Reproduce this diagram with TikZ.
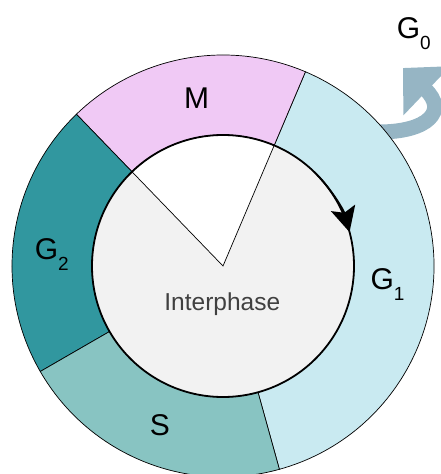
\documentclass[tikz,border=0pt]{standalone}
\usepackage{fontspec}
\setmainfont{Liberation Sans}
\usetikzlibrary{arrows.meta}
\definecolor{mcol}{RGB}{240,201,245}
\definecolor{gonecol}{RGB}{201,234,241}
\definecolor{gtwocol}{RGB}{49,151,159}
\definecolor{scol}{RGB}{136,196,194}
\definecolor{insidecol}{RGB}{242,242,242}
\definecolor{gzerocol}{RGB}{150,181,196}
\definecolor{intercol}{RGB}{64,64,64}
\tikzstyle{sector}=[draw=black,line width=0.7pt]
\tikzstyle{phase}=[inner sep=0pt,anchor=base,font=\fontsize{30}{36}\selectfont]
\newcommand{\phasesub}[1]{\raisebox{-11pt}{\fontsize{19}{22}\selectfont #1}}

\begin{document}
\begin{tikzpicture}[x=1pt,y=1pt]
\useasboundingbox (-223,-208) rectangle (217,266);
\coordinate (c) at (0,0);
\coordinate (exit) at (156,134);
\coordinate (gzerotip) at (180,198);
% G0 exit arrow, under the ring
\draw[gzerocol,line width=15pt,-{Triangle[length=33pt,width=66pt]}] (exit) .. controls (205,134) and (225,155) .. (gzerotip);
% the four phases
\path[sector,fill=gonecol] (-74.5:131pt) -- (-74.5:211pt) arc[start angle=-74.5,end angle=67,radius=211pt] -- (67:131pt) arc[start angle=67,end angle=-74.5,radius=131pt] -- cycle;
\path[sector,fill=mcol] (67:131pt) -- (67:211pt) arc[start angle=67,end angle=134,radius=211pt] -- (134:131pt) arc[start angle=134,end angle=67,radius=131pt] -- cycle;
\path[sector,fill=gtwocol] (134:131pt) -- (134:211pt) arc[start angle=134,end angle=210,radius=211pt] -- (210:131pt) arc[start angle=210,end angle=134,radius=131pt] -- cycle;
\path[sector,fill=scol] (210:131pt) -- (210:211pt) arc[start angle=210,end angle=285.5,radius=211pt] -- (285.5:131pt) arc[start angle=285.5,end angle=210,radius=131pt] -- cycle;
% interphase disc
\fill[insidecol] (c) circle[radius=131pt];
\draw[sector,fill=white] (c) -- (67:131pt) arc[start angle=67,end angle=134,radius=131pt] -- cycle;
\draw[line width=1.8pt] (c) circle[radius=131pt];
\draw[line width=1.8pt,-{Stealth[length=25pt,width=25pt,inset=5pt]}] (44:131pt) arc[start angle=44,end angle=15,radius=131pt];
% labels
\node[phase] (m) at (-26.3,157.7) {M};
\node[phase,anchor=base west] (gtwo) at (-188.4,7) {G\phasesub{2}};
\node[phase,anchor=base west] (gone) at (147.3,-23) {G\phasesub{1}};
\node[phase] (s) at (-63,-169) {S};
\node[phase,anchor=base west] (gzero) at (173.6,227.7) {G\phasesub{0}};
\node[phase,font=\fontsize{24.5}{29}\selectfont,text=intercol] (inter) at (-0.7,-44.7) {Interphase};
\end{tikzpicture}
\end{document}
